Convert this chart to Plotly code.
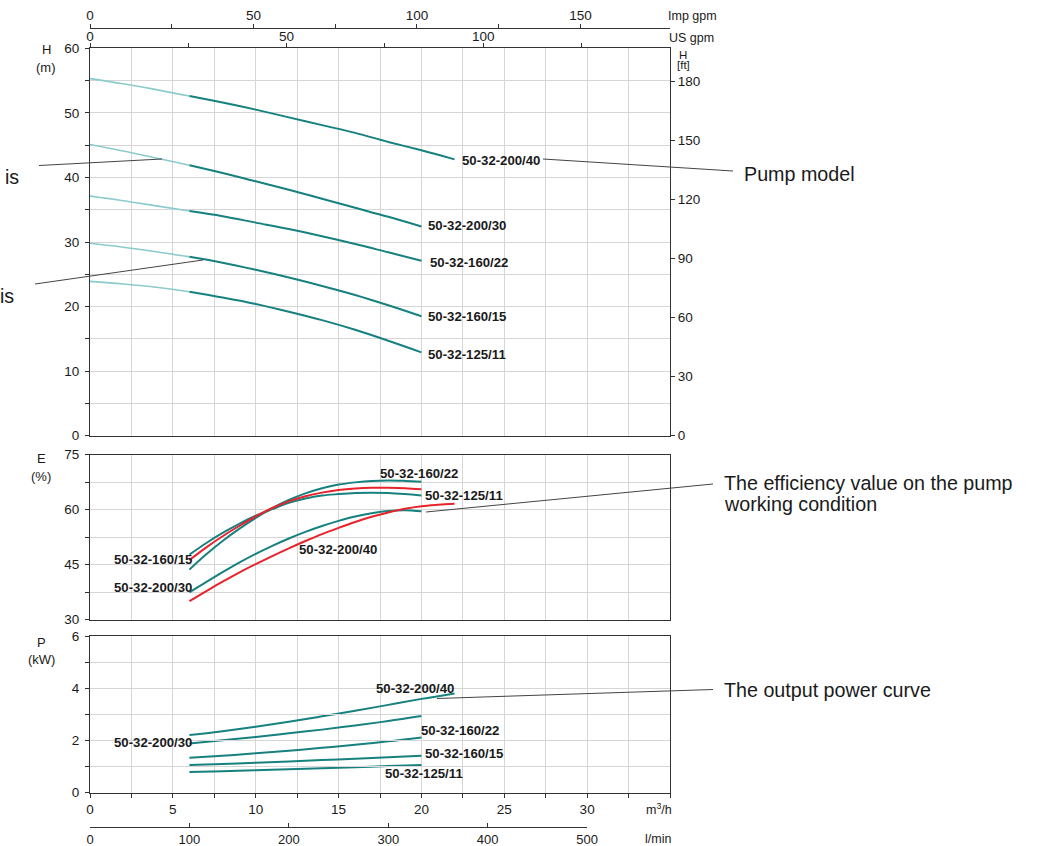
import plotly.graph_objects as go

# ---------------- data ----------------
models = ["50-32-200/40", "50-32-200/30", "50-32-160/22", "50-32-160/15", "50-32-125/11"]

# Head curves H (m) vs Q (m3/h)
q_head = [0, 2, 4, 6, 8, 10, 12, 14, 16, 18, 20]
q_head_40 = [0, 2, 4, 6, 8, 10, 12, 14, 16, 18, 20, 22]
head_200_40 = [55.3, 54.5, 53.6, 52.6, 51.6, 50.5, 49.3, 48.1, 46.9, 45.5, 44.2, 42.8]
head_200_30 = [45.1, 44.1, 43.0, 41.9, 40.7, 39.4, 38.1, 36.7, 35.3, 33.9, 32.4]
head_160_22 = [37.1, 36.4, 35.6, 34.8, 34.0, 33.0, 32.0, 30.9, 29.7, 28.4, 27.1]
head_160_15 = [29.8, 29.2, 28.5, 27.7, 26.8, 25.7, 24.5, 23.2, 21.8, 20.2, 18.5]
head_125_11 = [23.9, 23.5, 23.0, 22.3, 21.4, 20.4, 19.2, 17.9, 16.4, 14.7, 12.9]

# Efficiency curves E (%) vs Q (m3/h)
q_eff = [6, 7, 8, 9, 10, 11, 12, 13, 14, 15, 16, 17, 18, 19, 20]
q_eff_40 = [6, 7, 8, 9, 10, 11, 12, 13, 14, 15, 16, 17, 18, 19, 20, 21, 22]
eff_160_22 = [43.6, 47.7, 51.4, 54.7, 57.7, 60.4, 62.6, 64.4, 65.8, 66.8, 67.4, 67.8, 67.9, 67.8, 67.6]
eff_160_15 = [46.2, 49.6, 52.7, 55.5, 58.1, 60.4, 62.2, 63.6, 64.6, 65.3, 65.7, 65.9, 65.9, 65.8, 65.5]
eff_125_11 = [47.7, 50.8, 53.6, 56.1, 58.3, 60.1, 61.8, 63.0, 63.8, 64.2, 64.5, 64.6, 64.5, 64.2, 63.8]
eff_200_30 = [37.4, 40.2, 42.9, 45.5, 47.9, 50.1, 52.1, 53.9, 55.5, 56.9, 58.1, 59.0, 59.6, 59.8, 59.5]
eff_200_40 = [35.0, 37.7, 40.3, 42.8, 45.1, 47.3, 49.4, 51.4, 53.3, 55.0, 56.6, 58.0, 59.2, 60.2, 60.9, 61.3, 61.6]

# Power curves P (kW) vs Q (m3/h)
q_pow = [6, 8, 10, 12, 14, 16, 18, 20]
q_pow_40 = [6, 8, 10, 12, 14, 16, 18, 20, 22]
pow_200_40 = [2.21, 2.36, 2.53, 2.72, 2.93, 3.14, 3.37, 3.60, 3.81]
pow_200_30 = [1.89, 2.01, 2.14, 2.28, 2.42, 2.58, 2.75, 2.94]
pow_160_22 = [1.34, 1.42, 1.51, 1.61, 1.72, 1.84, 1.97, 2.12]
pow_160_15 = [1.06, 1.10, 1.15, 1.20, 1.25, 1.30, 1.36, 1.42]
pow_125_11 = [0.79, 0.82, 0.86, 0.90, 0.94, 0.98, 1.02, 1.06]

# unit conversions used for the secondary axes
US_GPM_PER_M3H = 4.4029
IMP_GPM_PER_M3H = 3.6662
LMIN_PER_M3H = 1000 / 60
FT_PER_M = 3.2808

# axis ticks
q_ticks = [0, 2.5, 5, 7.5, 10, 12.5, 15, 17.5, 20, 22.5, 25, 27.5, 30, 32.5, 35]
q_labels = ["0", "", "5", "", "10", "", "15", "", "20", "", "25", "", "30", "", ""]
h_ticks = [0, 5, 10, 15, 20, 25, 30, 35, 40, 45, 50, 55, 60]
h_labels = ["0", "", "10", "", "20", "", "30", "", "40", "", "50", "", "60"]
hft_ticks = [0, 30, 60, 90, 120, 150, 180]
e_ticks = [30, 37.5, 45, 52.5, 60, 67.5, 75]
e_labels = ["30", "", "45", "", "60", "", "75"]
p_ticks = [0, 1, 2, 3, 4, 5, 6]
p_labels = ["0", "", "2", "", "4", "", "6"]
usgpm_ticks = [0, 25, 50, 75, 100, 125]
usgpm_labels = ["0", "", "50", "", "100", ""]
impgpm_ticks = [0, 25, 50, 75, 100, 125, 150]
impgpm_labels = ["0", "", "50", "", "100", "", "150"]
lmin_ticks = [0, 100, 200, 300, 400, 500]

# ---------------- styling ----------------
W, H = 1046, 846
FONT = "Liberation Sans, Arial, sans-serif"
TEAL = "#16817f"
TEAL_LIGHT = "#8ccbcb"
RED = "#e8232b"
GRID = "#d6d6d6"
AX = "#333333"
TXT = "#1a1a1a"
TICK_SIZE = 13.5
MODEL_SIZE = 13.2
NOTE_SIZE = 19.7


def px(x):
    return x / W


def py(y):
    return 1 - y / H


X_DOM = [px(90), px(670)]
H_DOM = [py(435.7), py(48.3)]
E_DOM = [py(619.5), py(454.5)]
P_DOM = [py(792.7), py(636.3)]

fig = go.Figure()

# invisible companions so the secondary axes (US gpm, Imp gpm, l/min, ft) are drawn
hidden = dict(mode="lines", opacity=0, line=dict(width=0), hoverinfo="skip")
fig.add_trace(go.Scatter(x=[q * US_GPM_PER_M3H for q in q_head_40], y=head_200_40, xaxis="x4", yaxis="y", **hidden))
fig.add_trace(go.Scatter(x=[q * IMP_GPM_PER_M3H for q in q_head_40], y=head_200_40, xaxis="x5", yaxis="y", **hidden))
fig.add_trace(go.Scatter(x=[q * LMIN_PER_M3H for q in q_pow_40], y=pow_200_40, xaxis="x6", yaxis="y4", **hidden))
fig.add_trace(go.Scatter(x=q_head_40, y=[h * FT_PER_M for h in head_200_40], xaxis="x", yaxis="y2", **hidden))

# head curves: light part up to 6 m3/h, dark part beyond
head_sets = [
    (q_head_40, head_200_40),
    (q_head, head_200_30),
    (q_head, head_160_22),
    (q_head, head_160_15),
    (q_head, head_125_11),
]
for qs, hs in head_sets:
    ql = [q for q in qs if q <= 6]
    hl = [h for q, h in zip(qs, hs) if q <= 6]
    qd = [q for q in qs if q >= 6]
    hd = [h for q, h in zip(qs, hs) if q >= 6]
    fig.add_trace(go.Scatter(x=ql, y=hl, mode="lines", line=dict(color=TEAL_LIGHT, width=1.6, shape="spline"),
                             xaxis="x", yaxis="y", hoverinfo="skip"))
    fig.add_trace(go.Scatter(x=qd, y=hd, mode="lines", line=dict(color=TEAL, width=2, shape="spline"),
                             xaxis="x", yaxis="y", hoverinfo="skip"))

# efficiency curves
eff_sets = [
    (q_eff, eff_160_22, TEAL),
    (q_eff, eff_125_11, TEAL),
    (q_eff, eff_160_15, RED),
    (q_eff, eff_200_30, TEAL),
    (q_eff_40, eff_200_40, RED),
]
for qs, es, col in eff_sets:
    fig.add_trace(go.Scatter(x=qs, y=es, mode="lines", line=dict(color=col, width=2, shape="spline"),
                             xaxis="x2", yaxis="y3", hoverinfo="skip"))

# power curves
pow_sets = [
    (q_pow_40, pow_200_40),
    (q_pow, pow_200_30),
    (q_pow, pow_160_22),
    (q_pow, pow_160_15),
    (q_pow, pow_125_11),
]
for qs, ps in pow_sets:
    fig.add_trace(go.Scatter(x=qs, y=ps, mode="lines", line=dict(color=TEAL, width=2, shape="spline"),
                             xaxis="x3", yaxis="y4", hoverinfo="skip"))

tickfont = dict(family=FONT, size=TICK_SIZE, color=TXT)

base_x = dict(domain=X_DOM, range=[0, 35], tickvals=q_ticks, showgrid=True, gridcolor=GRID, gridwidth=1,
              zeroline=False, showline=True, linecolor=AX, linewidth=1, mirror=True, fixedrange=True)

fig.update_layout(
    width=W, height=H, autosize=False,
    margin=dict(l=0, r=0, t=0, b=0),
    paper_bgcolor="white", plot_bgcolor="rgba(0,0,0,0)",
    showlegend=False, template="none",
    font=dict(family=FONT, size=13, color=TXT),
    xaxis=dict(base_x, anchor="y", showticklabels=False, ticks=""),
    xaxis2=dict(base_x, anchor="y3", showticklabels=False, ticks=""),
    xaxis3=dict(base_x, anchor="y4", ticktext=q_labels, ticks="outside", ticklen=4, tickcolor=AX,
                tickfont=tickfont),
    xaxis4=dict(overlaying="x", anchor="y", side="top", range=[0, 147.5], tickvals=usgpm_ticks,
                ticktext=usgpm_labels, ticks="outside", ticklen=4, tickcolor=AX, showgrid=False,
                zeroline=False, showline=True, linecolor=AX, tickfont=tickfont, ticklabelstandoff=-3),
    xaxis5=dict(overlaying="x", anchor="free", position=py(27.7), side="top", range=[0, 177.4],
                tickvals=impgpm_ticks, ticktext=impgpm_labels, ticks="outside", ticklen=4, tickcolor=AX,
                showgrid=False, zeroline=False, showline=True, linecolor=AX, tickfont=tickfont,
                ticklabelstandoff=-2),
    xaxis6=dict(domain=[px(90), px(587.1)], anchor="free", position=py(827), side="bottom",
                range=[0, 500], tickvals=lmin_ticks, ticks="inside", ticklen=4, tickcolor=AX,
                showgrid=False, zeroline=False, showline=True, linecolor=AX,
                tickfont=dict(family=FONT, size=13, color=TXT)),
    yaxis=dict(domain=H_DOM, anchor="x", range=[0, 60], tickvals=h_ticks, ticktext=h_labels,
               ticks="outside", ticklen=4, tickcolor=AX, showgrid=True, gridcolor=GRID, zeroline=False,
               showline=True, linecolor=AX, mirror=True, tickfont=tickfont, ticklabelstandoff=3),
    yaxis2=dict(overlaying="y", anchor="x", side="right", range=[0, 196.85], tickvals=hft_ticks,
                ticks="outside", ticklen=4, tickcolor=AX, showgrid=False, zeroline=False,
                showline=True, linecolor=AX, tickfont=tickfont),
    yaxis3=dict(domain=E_DOM, anchor="x2", range=[30, 75], tickvals=e_ticks, ticktext=e_labels,
                ticks="outside", ticklen=4, tickcolor=AX, showgrid=True, gridcolor=GRID, zeroline=False,
                showline=True, linecolor=AX, mirror=True, tickfont=tickfont, ticklabelstandoff=3),
    yaxis4=dict(domain=P_DOM, anchor="x3", range=[0, 6], tickvals=p_ticks, ticktext=p_labels,
                ticks="outside", ticklen=4, tickcolor=AX, showgrid=True, gridcolor=GRID, zeroline=False,
                showline=True, linecolor=AX, mirror=True, tickfont=tickfont, ticklabelstandoff=3),
)

annotations = []


def label(text, x, y, xref, yref, anchor="left", size=MODEL_SIZE, bold=True):
    annotations.append(dict(text=f"<b>{text}</b>" if bold else text, x=x, y=y, xref=xref, yref=yref,
                            xanchor=anchor, yanchor="middle", showarrow=False,
                            font=dict(family=FONT, size=size, color=TXT)))


# model labels, head panel
label(models[0], 22.3, 42.6, "x", "y")
label(models[1], 20.3, 32.5, "x", "y")
label(models[2], 20.4, 26.9, "x", "y")
label(models[3], 20.3, 18.5, "x", "y")
label(models[4], 20.3, 12.65, "x", "y")
# model labels, efficiency panel
label(models[2], 17.4, 69.7, "x2", "y3")
label(models[4], 20.1, 63.8, "x2", "y3")
label(models[0], 12.5, 49.1, "x2", "y3")
label(models[3], 6.3, 46.3, "x2", "y3", anchor="right")
label(models[1], 6.3, 38.8, "x2", "y3", anchor="right")
# model labels, power panel
label(models[0], 17.15, 4.0, "x3", "y4")
label(models[1], 6.25, 1.92, "x3", "y4", anchor="right")
label(models[2], 19.85, 2.38, "x3", "y4")
label(models[3], 20.1, 1.51, "x3", "y4")
label(models[4], 17.7, 0.72, "x3", "y4")

# axis unit labels
units = [
    ("H", 46, 50, 13), ("(m)", 46, 67, 13),
    ("H", 683, 54.5, 11.5), ("[ft]", 683, 65.5, 11.5),
    ("E", 41, 459, 13), ("(%)", 41, 476, 13),
    ("P", 41, 642, 13), ("(kW)", 41, 659, 13),
]
for t, x, y, s in units:
    label(t, px(x), py(y), "paper", "paper", anchor="center", size=s, bold=False)
label("Imp gpm", px(666), py(16.5), "paper", "paper", size=12.5, bold=False)
label("US gpm", px(667), py(37.5), "paper", "paper", size=12.5, bold=False)
label("m<sup>3</sup>/h", px(644), py(809), "paper", "paper", size=12.5, bold=False)
label("l/min", px(643), py(839), "paper", "paper", size=12.5, bold=False)

# callouts
label("Pump model", px(742), py(174), "paper", "paper", size=NOTE_SIZE, bold=False)
label("The efficiency value on the pump", px(722), py(483), "paper", "paper", size=NOTE_SIZE, bold=False)
label("working condition", px(722), py(504), "paper", "paper", size=NOTE_SIZE, bold=False)
label("The output power curve", px(722), py(690), "paper", "paper", size=NOTE_SIZE, bold=False)
label("is", px(21), py(177), "paper", "paper", anchor="right", size=NOTE_SIZE, bold=False)
label("is", px(16), py(296), "paper", "paper", anchor="right", size=NOTE_SIZE, bold=False)

fig.update_layout(annotations=annotations)

callout_lines = [
    (543, 159, 733, 171),
    (426, 512, 713, 484),
    (437, 698.5, 713, 689.5),
    (39, 165.5, 162, 159),
    (35, 284, 203, 260),
]
fig.update_layout(shapes=[
    dict(type="line", xref="paper", yref="paper", x0=px(a), y0=py(b), x1=px(c), y1=py(d),
         line=dict(color="#444444", width=1))
    for a, b, c, d in callout_lines
])

fig.write_html("out.html", config={"displayModeBar": False, "staticPlot": True},
               post_script="document.body.style.margin='0';document.body.style.overflow='hidden';")
